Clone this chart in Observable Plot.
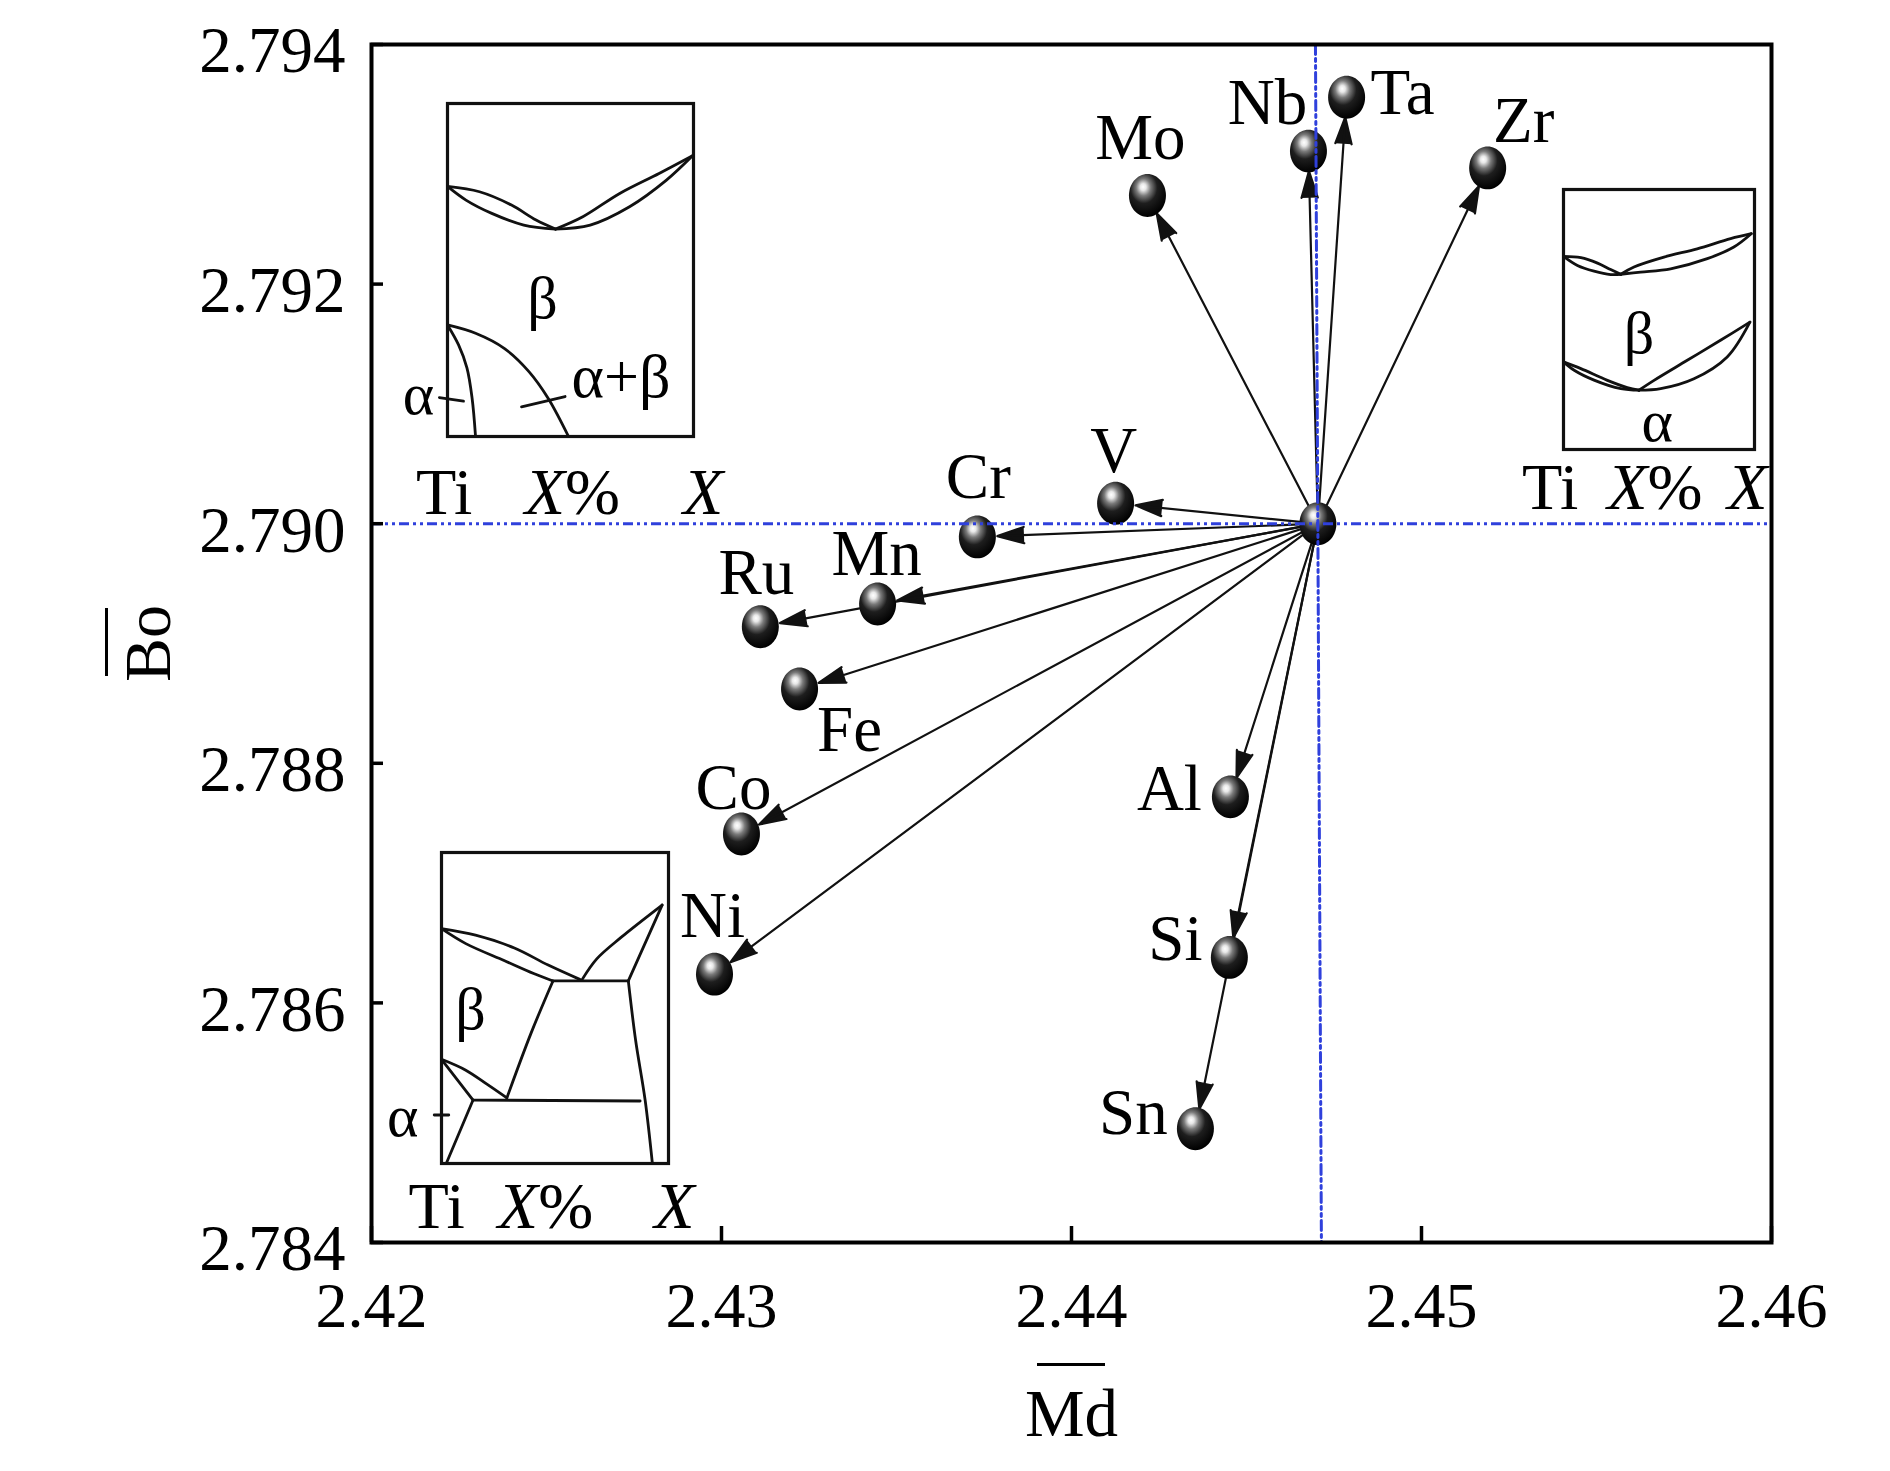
<!DOCTYPE html>
<html>
<head>
<meta charset="utf-8">
<script src="https://cdn.jsdelivr.net/npm/d3@7"></script>
<script src="https://cdn.jsdelivr.net/npm/@observablehq/plot@0.6"></script>
<style>
html, body { margin: 0; padding: 0; background: #fff; overflow: hidden; }
#wrap { position: relative; width: 1890px; height: 1471px; background: #fff; }
#wrap svg { position: absolute; max-width: none; }
.bar { position: absolute; background: #000; }
</style>
</head>
<body>
<div id="wrap"></div>
<script>
// ---------------- data ----------------
const elements = ["Mo", "Nb", "Ta", "Zr", "V", "Cr", "Mn", "Ru", "Fe", "Co", "Ni", "Al", "Si", "Sn"];
const mdValues = [2.44217, 2.44677, 2.44786, 2.45189, 2.44126, 2.43731, 2.43446, 2.43111, 2.43223, 2.43057, 2.42980, 2.44454, 2.44451, 2.44354];
const boValues = [2.79274, 2.79311, 2.79356, 2.79297, 2.79017, 2.78989, 2.78933, 2.78914, 2.78862, 2.78741, 2.78624, 2.78772, 2.78638, 2.78495];
const tiPoint = {name: "Ti", md: 2.44704, bo: 2.79000};
const refBo = [2.790];                                   // horizontal reference line
const refMdLine = [{md: 2.44697, bo: 2.794}, {md: 2.44714, bo: 2.784}]; // vertical reference line
const xTicks = [2.42, 2.43, 2.44, 2.45, 2.46];
const yTicks = [2.784, 2.786, 2.788, 2.790, 2.792, 2.794];
const xTitle = "Md";
const yTitle = "Bo";

// label placement (pixel offsets from each ball)
const labelOffsets = {
  Mo: [-7, -57], Nb: [-41, -48], Ta: [56, -4], Zr: [36, -47], V: [-2, -52],
  Cr: [1, -60], Mn: [-1, -50], Ru: [-4, -54], Fe: [50, 41], Co: [-8, -46],
  Ni: [-2, -58], Al: [-61, -8], Si: [-54, -18], Sn: [-62, -16]
};

// inset phase diagrams (fractions of each inset box, y measured from the top)
const inset1Curves = [
  [[0, 0.249], [0.13, 0.265], [0.26, 0.305], [0.36, 0.35], [0.439, 0.377]],
  [[0, 0.249], [0.075, 0.29], [0.18, 0.33], [0.31, 0.365], [0.439, 0.377]],
  [[0.439, 0.377], [0.55, 0.34], [0.70, 0.27], [0.86, 0.21], [0.996, 0.157]],
  [[0.439, 0.377], [0.58, 0.365], [0.74, 0.31], [0.89, 0.23], [0.996, 0.157]],
  [[0, 0.665], [0.114, 0.69], [0.232, 0.736], [0.331, 0.805], [0.409, 0.885], [0.492, 1.0]],
  [[0, 0.665], [0.045, 0.725], [0.079, 0.794], [0.100, 0.885], [0.114, 1.0]]
];
const inset1Lines = [
  [[-0.033, 0.883], [0.065, 0.894]],
  [[0.301, 0.911], [0.478, 0.880]]
];
const inset1Labels = [
  {t: "β", x: 0.386, y: 0.587, s: 60},
  {t: "α", x: -0.118, y: 0.874, s: 60},
  {t: "α+β", x: 0.705, y: 0.822, s: 62},
  {t: "Ti", x: -0.014, y: 1.168, s: 66},
  {t: "X", x: 0.478, y: 1.168, s: 66, italic: true, anchor: "end"},
  {t: "%", x: 0.478, y: 1.168, s: 66, anchor: "start"},
  {t: "X", x: 1.039, y: 1.168, s: 66, italic: true}
];

const inset2Curves = [
  [[0, 0.257], [0.091, 0.262], [0.178, 0.283], [0.247, 0.308], [0.300, 0.326]],
  [[0, 0.257], [0.073, 0.292], [0.160, 0.314], [0.247, 0.327], [0.300, 0.326]],
  [[0.300, 0.326], [0.369, 0.298], [0.526, 0.260], [0.700, 0.228], [0.875, 0.189], [0.983, 0.170]],
  [[0.300, 0.326], [0.404, 0.318], [0.561, 0.305], [0.753, 0.266], [0.892, 0.221], [0.983, 0.170]],
  [[0, 0.663], [0.091, 0.689], [0.230, 0.734], [0.334, 0.762], [0.395, 0.772]],
  [[0, 0.663], [0.056, 0.695], [0.160, 0.733], [0.300, 0.766], [0.395, 0.772]],
  [[0.395, 0.772], [0.474, 0.734], [0.648, 0.657], [0.822, 0.580], [0.976, 0.510]],
  [[0.395, 0.772], [0.509, 0.766], [0.683, 0.728], [0.857, 0.644], [0.976, 0.510]]
];
const inset2Lines = [];
const inset2Labels = [
  {t: "β", x: 0.395, y: 0.554, s: 60},
  {t: "α", x: 0.491, y: 0.894, s: 60},
  {t: "Ti", x: -0.07, y: 1.146, s: 66},
  {t: "X", x: 0.44, y: 1.146, s: 66, italic: true, anchor: "end"},
  {t: "%", x: 0.44, y: 1.146, s: 66, anchor: "start"},
  {t: "X", x: 0.963, y: 1.146, s: 66, italic: true}
];

const inset3Curves = [
  [[0, 0.245], [0.150, 0.266], [0.321, 0.307], [0.470, 0.362], [0.609, 0.408]],
  [[0, 0.245], [0.107, 0.293], [0.278, 0.348], [0.406, 0.389], [0.491, 0.413]],
  [[0.620, 0.408], [0.684, 0.342], [0.791, 0.273], [0.972, 0.169]],
  [[0.823, 0.413], [0.855, 0.603], [0.897, 0.796], [0.929, 1.0]],
  [[0.491, 0.413], [0.395, 0.580], [0.288, 0.789]],
  [[0, 0.665], [0.107, 0.700], [0.200, 0.745], [0.288, 0.789]]
];
const inset3Lines = [
  [[0.491, 0.413], [0.823, 0.413]],
  [[0.823, 0.413], [0.972, 0.169]],
  [[0, 0.665], [0.139, 0.796]],
  [[0.139, 0.796], [0.875, 0.799]],
  [[0.139, 0.796], [0.021, 1.0]],
  [[-0.032, 0.844], [0.032, 0.844]]
];
const inset3Labels = [
  {t: "β", x: 0.128, y: 0.507, s: 60},
  {t: "α", x: -0.171, y: 0.851, s: 60},
  {t: "Ti", x: -0.021, y: 1.14, s: 66},
  {t: "X", x: 0.426, y: 1.14, s: 66, italic: true, anchor: "end"},
  {t: "%", x: 0.426, y: 1.14, s: 66, anchor: "start"},
  {t: "X", x: 1.026, y: 1.14, s: 66, italic: true}
];

// ---------------- layout ----------------
const FONT = "'Liberation Serif', 'Times New Roman', serif";
const BLUE = "#2f40dc";
const W = 1890, H = 1471, mL = 371, mR = 119, mT = 44, mB = 229;
const innerW = W - mL - mR, innerH = H - mT - mB;
const wrap = document.getElementById("wrap");

const pts = elements.map((name, i) => ({name, md: mdValues[i], bo: boValues[i]}));
const arrowRows = pts.map(p => ({...p, md0: tiPoint.md, bo0: tiPoint.bo}));

const ellipse = {
  draw(ctx, size) {
    const r = Math.sqrt(size / Math.PI), rx = r, ry = r * 1.16, k = 0.5523;
    ctx.moveTo(rx, 0);
    ctx.bezierCurveTo(rx, ry * k, rx * k, ry, 0, ry);
    ctx.bezierCurveTo(-rx * k, ry, -rx, ry * k, -rx, 0);
    ctx.bezierCurveTo(-rx, -ry * k, -rx * k, -ry, 0, -ry);
    ctx.bezierCurveTo(rx * k, -ry, rx, -ry * k, rx, 0);
    ctx.closePath();
  }
};

const defsMark = () => {
  const g = document.createElementNS("http://www.w3.org/2000/svg", "g");
  g.innerHTML = `<defs><radialGradient id="ball" cx="0.42" cy="0.34" r="0.66" fx="0.38" fy="0.3">
    <stop offset="0" stop-color="#ffffff"/>
    <stop offset="0.12" stop-color="#e8e8e8"/>
    <stop offset="0.30" stop-color="#7a7a7a"/>
    <stop offset="0.55" stop-color="#1e1e1e"/>
    <stop offset="1" stop-color="#000000"/>
  </radialGradient></defs>`;
  return g;
};

const labelMarks = pts.map(p => Plot.text([p], {
  x: "md", y: "bo", text: "name",
  dx: labelOffsets[p.name][0], dy: labelOffsets[p.name][1],
  fontSize: 65, fontFamily: FONT, fill: "black", lineAnchor: "middle", textAnchor: "middle"
}));

const dash = "10,4,3,4,3,4";

const main = Plot.plot({
  width: W, height: H,
  marginLeft: mL, marginRight: mR, marginTop: mT, marginBottom: mB,
  x: {domain: [2.42, 2.46]},
  y: {domain: [2.784, 2.794]},
  style: {fontFamily: FONT, background: "transparent", overflow: "visible"},
  marks: [
    defsMark,
    Plot.arrow(arrowRows, {
      x1: "md0", y1: "bo0", x2: "md", y2: "bo",
      stroke: "#111", fill: "#111", strokeWidth: 2.2,
      headLength: 19, headAngle: 34, insetEnd: 20
    }),
    Plot.dot(pts.concat([tiPoint]), {x: "md", y: "bo", r: 18.5, symbol: ellipse, fill: "url(#ball)", stroke: "none"}),
    Plot.ruleY(refBo, {y: d => d, stroke: BLUE, strokeWidth: 3, strokeDasharray: dash}),
    Plot.line(refMdLine, {x: "md", y: "bo", stroke: BLUE, strokeWidth: 3, strokeDasharray: dash}),
    ...labelMarks,
    Plot.tickX(xTicks, {x: d => d, insetTop: innerH - 16, strokeWidth: 3.5, stroke: "black"}),
    Plot.tickY(yTicks, {y: d => d, insetRight: innerW - 12, strokeWidth: 3.5, stroke: "black"}),
    Plot.axisX({ticks: xTicks, tickSize: 0, tickPadding: 39, tickFormat: d3.format(".2f"), fontSize: 64, fontFamily: FONT, label: null, fill: "black"}),
    Plot.axisY({ticks: yTicks, tickSize: 0, tickPadding: 26, tickFormat: d3.format(".3f"), fontSize: 65, fontFamily: FONT, label: null, dy: 7, fill: "black"}),
    Plot.text([xTitle], {frameAnchor: "bottom", text: d => d, dy: 172, lineAnchor: "middle", textAnchor: "middle", fontSize: 67, fontFamily: FONT, fill: "black"}),
    Plot.text([yTitle], {frameAnchor: "left", text: d => d, rotate: -90, dx: -223, lineAnchor: "middle", textAnchor: "middle", fontSize: 66, fontFamily: FONT, fill: "black"}),
    Plot.frame({strokeWidth: 4, stroke: "black"})
  ]
});
main.style.left = "0px";
main.style.top = "0px";
wrap.appendChild(main);

// overbars of the axis titles (decoration, not text)
function bar(left, top, w, h) {
  const d = document.createElement("div");
  d.className = "bar";
  Object.assign(d.style, {left: left + "px", top: top + "px", width: w + "px", height: h + "px"});
  wrap.appendChild(d);
}
bar(mL + innerW / 2 - 34, 1363, 68, 3);
bar(105, mT + innerH / 2 - 35, 3, 68);

// ---------------- insets ----------------
function drawInset(box, curves, lines, labels) {
  const curveRows = curves.flatMap((c, k) => c.map(([x, y]) => ({seg: k, x, y})));
  const lineRows = lines.flatMap((c, k) => c.map(([x, y]) => ({seg: k, x, y})));
  const textMarks = labels.map(l => Plot.text([l], {
    x: "x", y: "y", text: "t", fontSize: l.s, fontFamily: FONT, fill: "black",
    fontStyle: l.italic ? "italic" : "normal", textAnchor: l.anchor || "middle", lineAnchor: "middle"
  }));
  const svg = Plot.plot({
    width: box.w, height: box.h, margin: 0,
    x: {domain: [0, 1], range: [0, box.w], axis: null},
    y: {domain: [0, 1], range: [0, box.h], axis: null},
    style: {overflow: "visible", background: "transparent", fontFamily: FONT},
    marks: [
      Plot.frame({strokeWidth: 3.2, stroke: "#111"}),
      Plot.line(curveRows, {x: "x", y: "y", z: "seg", curve: "catmull-rom", stroke: "#111", strokeWidth: 2.8}),
      Plot.line(lineRows, {x: "x", y: "y", z: "seg", stroke: "#111", strokeWidth: 2.8}),
      ...textMarks
    ]
  });
  svg.style.left = box.left + "px";
  svg.style.top = box.top + "px";
  wrap.appendChild(svg);
}

drawInset({left: 447, top: 103, w: 246, h: 333}, inset1Curves, inset1Lines, inset1Labels);
drawInset({left: 1563, top: 189, w: 191, h: 260}, inset2Curves, inset2Lines, inset2Labels);
drawInset({left: 441, top: 852, w: 227, h: 311}, inset3Curves, inset3Lines, inset3Labels);
</script>
</body>
</html>
